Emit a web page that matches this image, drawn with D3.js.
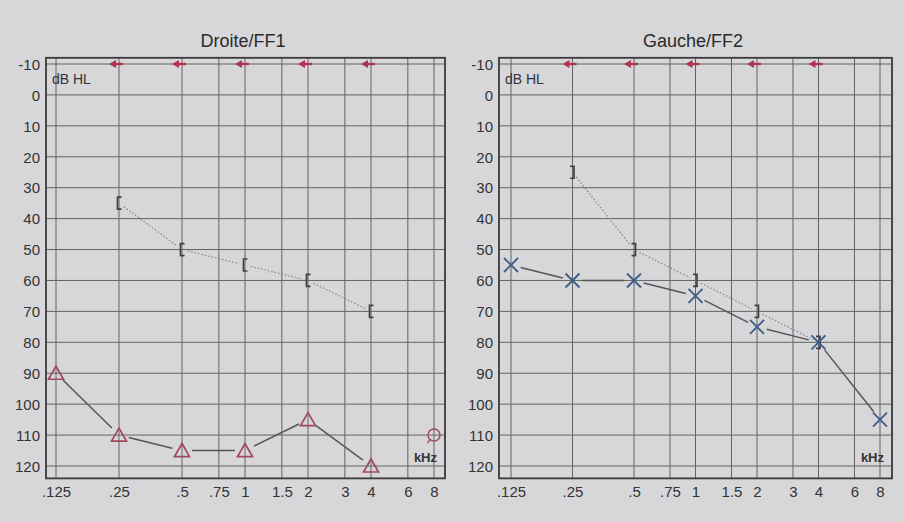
<!DOCTYPE html>
<html><head><meta charset="utf-8">
<script src="https://cdn.jsdelivr.net/npm/d3@7"></script>
<style>html,body{margin:0;padding:0;background:#d6d6d9;}svg{display:block;}</style>
</head><body><svg id="c" width="904" height="522"></svg>
<script>
// ---- data ----
const freqTicks = [0.125, 0.25, 0.5, 0.75, 1, 1.5, 2, 3, 4, 6, 8];
const freqLabels = [".125", ".25", ".5", ".75", "1", "1.5", "2", "3", "4", "6", "8"];
const dbTicks = [-10, 0, 10, 20, 30, 40, 50, 60, 70, 80, 90, 100, 110, 120];
const panelTitles = ["Droite/FF1", "Gauche/FF2"];

// Right ear (Droite) air conduction (triangles)
const droiteAirFreq = [0.125, 0.25, 0.5, 1, 2, 4];
const droiteAirDb = [90, 110, 115, 115, 105, 120];
// Right ear bone conduction "["
const droiteBoneFreq = [0.25, 0.5, 1, 2, 4];
const droiteBoneDb = [35, 50, 55, 60, 70];
// Right ear isolated circle
const droiteCircleFreq = [8];
const droiteCircleDb = [110];

// Left ear (Gauche) air conduction (X)
const gaucheAirFreq = [0.125, 0.25, 0.5, 1, 2, 4, 8];
const gaucheAirDb = [55, 60, 60, 65, 75, 80, 105];
// Left ear bone conduction "]"
const gaucheBoneFreq = [0.25, 0.5, 1, 2, 4];
const gaucheBoneDb = [25, 50, 60, 70, 80];

// Arrows at top
const arrowFreq = [0.25, 0.5, 1, 2, 4];
const arrowDb = [-10, -10, -10, -10, -10];

// ---- drawing ----
const FONT = "Liberation Sans, Arial, sans-serif";
const svg = d3.select("#c");
svg.append("rect").attr("width", 904).attr("height", 522).attr("fill", "#d7d7da");

const panels = [
  {x0: 56, x1: 434, fl: 46, fr: 445, labelX: 40, titleX: 243,
   air: {f: droiteAirFreq, d: droiteAirDb, type: "tri"},
   bone: {f: droiteBoneFreq, d: droiteBoneDb, type: "["},
   circ: {f: droiteCircleFreq, d: droiteCircleDb}},
  {x0: 511, x1: 880, fl: 499, fr: 892, labelX: 493, titleX: 693,
   air: {f: gaucheAirFreq, d: gaucheAirDb, type: "x"},
   bone: {f: gaucheBoneFreq, d: gaucheBoneDb, type: "]"},
   circ: null}
];

const y = d3.scaleLinear().domain([-10, 120]).range([64, 466]);
const frameTop = y(-12), frameBot = y(124);
const gridCol = "#636366", redCol = "#a2485e", blueCol = "#3f5e88", lineCol = "#55555a";

function shortSegs(pts, gap) {
  const segs = [];
  for (let i = 0; i < pts.length - 1; i++) {
    const [ax, ay] = pts[i], [bx, by] = pts[i + 1];
    const dx = bx - ax, dy = by - ay, L = Math.hypot(dx, dy);
    const ux = dx / L, uy = dy / L;
    segs.push([ax + ux * gap, ay + uy * gap, bx - ux * gap, by - uy * gap]);
  }
  return segs;
}

panels.forEach((p, pi) => {
  const x = d3.scaleLog().base(2).domain([0.125, 8]).range([p.x0, p.x1]);
  const g = svg.append("g");

  // title
  g.append("text").attr("x", p.titleX).attr("y", 47).attr("text-anchor", "middle")
    .attr("font-family", FONT).attr("font-size", 18)
    .attr("fill", "#2a2a2a").text(panelTitles[pi]);

  // grid
  g.selectAll(".vg").data(freqTicks).join("line")
    .attr("x1", d => x(d)).attr("x2", d => x(d)).attr("y1", frameTop).attr("y2", frameBot)
    .attr("stroke", gridCol).attr("stroke-width", 1);
  g.selectAll(".hg").data(dbTicks).join("line")
    .attr("x1", p.fl).attr("x2", p.fr).attr("y1", d => y(d)).attr("y2", d => y(d))
    .attr("stroke", gridCol).attr("stroke-width", 1);
  // frame
  g.append("rect").attr("x", p.fl).attr("y", frameTop).attr("width", p.fr - p.fl)
    .attr("height", frameBot - frameTop).attr("fill", "none").attr("stroke", "#3a3a3c").attr("stroke-width", 1.8);

  // y axis labels
  const yAxis = d3.axisLeft(y).tickValues(dbTicks).tickFormat(d => String(d)).tickSize(0).tickPadding(0);
  const ya = g.append("g").attr("transform", `translate(${p.labelX},0)`).call(yAxis);
  ya.select(".domain").remove();
  ya.selectAll("text").attr("font-family", FONT)
    .attr("font-size", 15).attr("fill", "#333").attr("dy", "0.35em");

  // x axis labels
  const xAxis = d3.axisBottom(x).tickValues(freqTicks).tickFormat((d, i) => freqLabels[i]).tickSize(0).tickPadding(0);
  const xa = g.append("g").attr("transform", `translate(0,${frameBot + 6})`).call(xAxis);
  xa.select(".domain").remove();
  xa.selectAll("text").attr("font-family", FONT)
    .attr("font-size", 15).attr("fill", "#333").attr("dy", "0.85em");

  // dB HL / kHz
  g.append("text").attr("x", p.fl + 6).attr("y", y(-5) + 5).attr("font-family", FONT)
    .attr("font-size", 14).attr("fill", "#333").text("dB HL");
  g.append("text").attr("x", p.fr - 8).attr("y", y(117) + 5).attr("text-anchor", "end")
    .attr("font-family", FONT).attr("font-weight", "bold")
    .attr("font-size", 13).attr("fill", "#333").text("kHz");

  // arrows at top
  arrowFreq.forEach((f, i) => {
    const ax = x(f), ay = y(arrowDb[i]);
    g.append("line").attr("x1", ax - 6).attr("x2", ax + 4).attr("y1", ay).attr("y2", ay)
      .attr("stroke", "#b0344e").attr("stroke-width", 2.4);
    g.append("path").attr("d", `M${ax - 10},${ay} L${ax - 3},${ay - 4} L${ax - 3},${ay + 4} Z`)
      .attr("fill", "#b0344e");
  });

  // bone conduction dotted line
  const bonePts = p.bone.f.map((f, i) => [x(f), y(p.bone.d[i])]);
  shortSegs(bonePts, 6).forEach(s => {
    g.append("line").attr("x1", s[0]).attr("y1", s[1]).attr("x2", s[2]).attr("y2", s[3])
      .attr("stroke", "#85858b").attr("stroke-width", 1.2).attr("stroke-dasharray", "1.5,2");
  });
  bonePts.forEach(([bx, by]) => {
    const dir = p.bone.type === "[" ? 1 : -1;
    g.append("path").attr("d", `M${bx + dir * 2.5},${by - 6} L${bx - dir * 1.5},${by - 6} L${bx - dir * 1.5},${by + 6} L${bx + dir * 2.5},${by + 6}`)
      .attr("fill", "none").attr("stroke", "#404044").attr("stroke-width", 1.7);
  });

  // air conduction line
  const airPts = p.air.f.map((f, i) => [x(f), y(p.air.d[i])]);
  shortSegs(airPts, 10).forEach(s => {
    g.append("line").attr("x1", s[0]).attr("y1", s[1]).attr("x2", s[2]).attr("y2", s[3])
      .attr("stroke", lineCol).attr("stroke-width", 1.5);
  });
  airPts.forEach(([ax, ay]) => {
    if (p.air.type === "tri") {
      g.append("path").attr("d", `M${ax},${ay - 7} L${ax + 7.5},${ay + 6} L${ax - 7.5},${ay + 6} Z`)
        .attr("fill", "none").attr("stroke", redCol).attr("stroke-width", 1.7);
    } else {
      g.append("path").attr("d", `M${ax - 7},${ay - 7} L${ax + 7},${ay + 7} M${ax + 7},${ay - 7} L${ax - 7},${ay + 7}`)
        .attr("fill", "none").attr("stroke", blueCol).attr("stroke-width", 1.9);
    }
  });

  // isolated circle
  if (p.circ) {
    p.circ.f.forEach((f, i) => {
      const cx = x(f), cy = y(p.circ.d[i]);
      g.append("circle").attr("cx", cx).attr("cy", cy).attr("r", 6)
        .attr("fill", "none").attr("stroke", redCol).attr("stroke-width", 1.5);
      g.append("line").attr("x1", cx - 4).attr("y1", cy + 4.5).attr("x2", cx - 6.5).attr("y2", cy + 8)
        .attr("stroke", redCol).attr("stroke-width", 1.4);
    });
  }
});
</script>
</body></html>
